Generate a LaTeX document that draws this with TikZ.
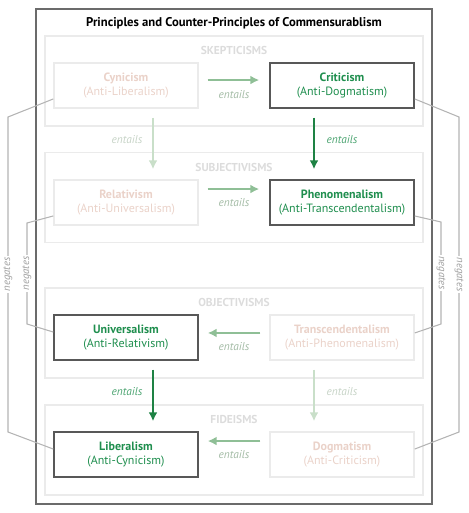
\documentclass[tikz,border=0pt]{standalone}
\usepackage{fontspec}
\setmainfont{PT Sans}
\usetikzlibrary{arrows.meta}
\definecolor{framegray}{HTML}{6B6B6B}
\definecolor{boxgray}{HTML}{585858}
\definecolor{palegray}{HTML}{EBEBEB}
\definecolor{grptxt}{HTML}{DCDCDC}
\definecolor{okgreen}{HTML}{1F8E4E}
\definecolor{darkarrow}{HTML}{1E8244}
\definecolor{midarrow}{HTML}{8FBF96}
\definecolor{palearrow}{HTML}{C9DFC9}
\definecolor{midtxt}{HTML}{A3BBA5}
\definecolor{paletxt}{HTML}{C6D3C6}
\definecolor{pinktxt}{HTML}{EAD2C9}
\definecolor{negline}{HTML}{B4B4B4}
\definecolor{negtxt}{HTML}{A0A0A0}
\def\ent{\textit{entails}}
\def\ngt{\textit{negates}}
\def\pr#1#2{\textbf{#1}\\(#2)}

\begin{document}
\begin{tikzpicture}[x=0.75pt,y=-0.75pt,node distance=162pt,>={Latex[length=6.75pt,width=6.75pt]},font=\fontsize{9}{10.5}\selectfont,
    held/.style={draw=boxgray,line width=1.1pt,text=okgreen,minimum width=108pt,minimum height=33.75pt,inner sep=0pt,align=center},
    dropped/.style={held,draw=palegray,text=pinktxt},
    group/.style={draw=palegray,line width=1.1pt,minimum width=283.5pt,minimum height=67.5pt,inner sep=0pt},
    grouptitle/.style={text=grptxt,font=\fontsize{8.6}{9}\selectfont\bfseries},
    entl/.style={font=\fontsize{8.5}{9}\selectfont},
    ngtl/.style={fill=white,inner sep=1pt,text=negtxt,font=\fontsize{8}{9}\selectfont},
    neg/.style={draw=negline,line width=0.8pt}]

    \useasboundingbox (0,0) rectangle (468,513);

    % frame and title
    \node[draw=framegray,line width=1.1pt,minimum width=297pt,minimum height=371.25pt] (FR) at (234,256.5) {};
    \node[font=\fontsize{9.5}{10}\selectfont\bfseries] (TTL) at (234,23) {Principles and Counter-Principles of Commensurablism};

    % groups
    \node[group] (SKE) at (234,81) {};
    \node[grouptitle] (SKEt) at (234,50) {SKEPTICISMS};
    \node[group] (SUB) at (234,197.5) {};
    \node[grouptitle] (SUBt) at (234,167) {SUBJECTIVISMS};
    \node[group] (OBJ) at (234,333) {};
    \node[grouptitle] (OBJt) at (234,302) {OBJECTIVISMS};
    \node[group] (FID) at (234,450) {};
    \node[grouptitle] (FIDt) at (234,419) {FIDEISMS};

    % principles
    \node[dropped] (Cyn) at (126,85.5) {\pr{Cynicism}{Anti-Liberalism}};
    \node[held,right of=Cyn] (Cri) {\pr{Criticism}{Anti-Dogmatism}};
    \node[dropped] (Rel) at (126,202.5) {\pr{Relativism}{Anti-Universalism}};
    \node[held,right of=Rel] (Phe) {\pr{Phenomenalism}{Anti-Transcendentalism}};
    \node[held] (Uni) at (126,337.5) {\pr{Universalism}{Anti-Relativism}};
    \node[dropped,right of=Uni] (Tra) {\pr{Transcendentalism}{Anti-Phenomenalism}};
    \node[held] (Lib) at (126,454.5) {\pr{Liberalism}{Anti-Cynicism}};
    \node[dropped,right of=Lib] (Dog) {\pr{Dogmatism}{Anti-Criticism}};

    % entails, across
    \draw[->,midarrow,line width=1.5pt,shorten <=6.75pt,shorten >=7.5pt,transform canvas={yshift=4.1pt}] (Cyn) to node[entl,text=midtxt,yshift=-11.25pt] {\ent} (Cri);
    \draw[->,midarrow,line width=1.5pt,shorten <=6.75pt,shorten >=7.5pt,transform canvas={yshift=10.1pt}] (Rel) to node[entl,text=midtxt,yshift=-10.5pt] {\ent} (Phe);
    \draw[->,midarrow,line width=1.5pt,shorten <=6.75pt,shorten >=6.75pt,transform canvas={yshift=3.4pt}] (Tra) to node[entl,text=midtxt,yshift=-10.5pt] {\ent} (Uni);
    \draw[->,midarrow,line width=1.5pt,shorten <=6.75pt,shorten >=6.75pt,transform canvas={yshift=10.1pt}] (Dog) to node[entl,text=midtxt,yshift=-10.5pt] {\ent} (Lib);

    % entails, down
    \draw[->,palearrow,line width=1.5pt,shorten <=6.75pt,shorten >=7.5pt,transform canvas={xshift=20.25pt}] (Cyn) to node[entl,text=paletxt,xshift=-19.5pt,yshift=3pt] {\ent} (Rel);
    \draw[->,darkarrow,line width=1.5pt,shorten <=6.75pt,shorten >=7.5pt,transform canvas={xshift=-21pt}] (Cri) to node[entl,text=okgreen!80,xshift=21pt,yshift=3pt] {\ent} (Phe);
    \draw[->,darkarrow,line width=1.5pt,shorten <=6.75pt,shorten >=7.5pt,transform canvas={xshift=20.25pt}] (Uni) to node[entl,text=okgreen!80,xshift=-19.5pt,yshift=3pt] {\ent} (Lib);
    \draw[->,palearrow,line width=1.5pt,shorten <=6.75pt,shorten >=7.5pt,transform canvas={xshift=-21pt}] (Tra) to node[entl,text=paletxt,xshift=21pt,yshift=3pt] {\ent} (Dog);

    % negates
    \coordinate (nLo1) at (8,117);
    \coordinate (nLo2) at (8,432);
    \coordinate (nLi1) at (27,223);
    \coordinate (nLi2) at (27,324);
    \coordinate (nRi1) at (441,222);
    \coordinate (nRi2) at (441,324);
    \coordinate (nRo1) at (459,117);
    \coordinate (nRo2) at (459,432);
    \draw[neg] ([yshift=-10.1pt]Cyn.west) -- (nLo1) -- node[ngtl,rotate=90] {\ngt} (nLo2) -- ([yshift=4.1pt]Lib.west);
    \draw[neg] ([yshift=-10.1pt]Rel.west) -- (nLi1) -- node[ngtl,rotate=90] {\ngt} (nLi2) -- ([yshift=4.1pt]Uni.west);
    \draw[neg] ([yshift=-10.1pt]Phe.east) -- (nRi1) -- node[ngtl,rotate=-90] {\ngt} (nRi2) -- ([yshift=3.4pt]Tra.east);
    \draw[neg] ([yshift=-10.1pt]Cri.east) -- (nRo1) -- node[ngtl,rotate=-90] {\ngt} (nRo2) -- ([yshift=4.1pt]Dog.east);

\end{tikzpicture}
\end{document}
